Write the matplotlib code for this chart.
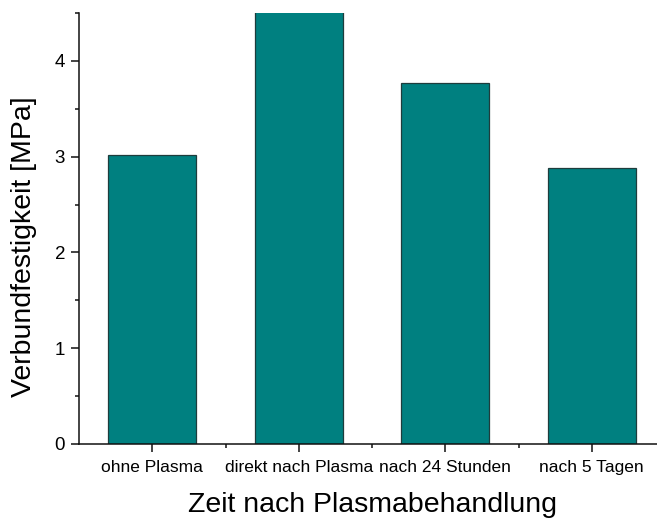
import matplotlib
matplotlib.use("Agg")
import matplotlib.pyplot as plt
from matplotlib.ticker import MultipleLocator, FixedLocator

plt.rcParams['font.family'] = ['Liberation Sans', 'DejaVu Sans']

# Bond strength after plasma treatment
categories = ["ohne Plasma", "direkt nach Plasma", "nach 24 Stunden", "nach 5 Tagen"]
strength_mpa = [3.02, 4.62, 3.77, 2.88]
y_ticks = [0, 1, 2, 3, 4]

fig = plt.figure(figsize=(6.57, 5.23), dpi=100)
ax = fig.add_axes([79 / 657, 79 / 523, 586 / 657, 431 / 523])

x = list(range(len(categories)))
ax.bar(x, strength_mpa, width=0.6, color="#008080", edgecolor="#1e3c3c",
       linewidth=0.9, zorder=2)

ax.set_xlim(-0.5, 3.5)
ax.set_ylim(0, 4.5)
ax.set_xticks(x)
ax.set_xticklabels(categories, fontsize=12.5)
ax.xaxis.set_minor_locator(FixedLocator([0.5, 1.5, 2.5]))
ax.set_yticks(y_ticks)
ax.set_yticklabels([str(v) for v in y_ticks], fontsize=13.5)
ax.yaxis.set_minor_locator(MultipleLocator(0.5))

for side in ("top", "right"):
    ax.spines[side].set_visible(False)
for side in ("left", "bottom"):
    ax.spines[side].set_linewidth(1.1)
    ax.spines[side].set_color("#111111")

ax.tick_params(axis="both", which="major", direction="out", length=6,
               width=1.1, color="#111111")
ax.tick_params(axis="both", which="minor", direction="out", length=3,
               width=1.1, color="#111111")
ax.tick_params(axis="x", which="major", pad=5.5)
ax.tick_params(axis="y", which="major", pad=4)

ax.set_xlabel("Zeit nach Plasmabehandlung", fontsize=20.5)
ax.set_ylabel("Verbundfestigkeit [MPa]", fontsize=20.5)
ax.xaxis.set_label_coords(0.5, -0.112)
ax.yaxis.set_label_coords(-0.072, 0.457)

fig.savefig("out.png", dpi=100)
